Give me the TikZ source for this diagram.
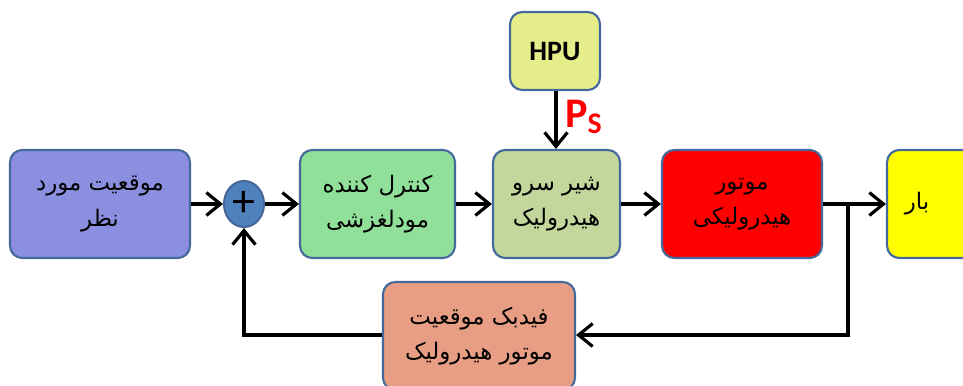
\documentclass[tikz,border=0pt]{standalone}
\usepackage{fontspec}
\usetikzlibrary{arrows.meta,shapes.geometric}
\setmainfont{Carlito}
\newfontfamily\arabicfont[Script=Arabic]{DejaVu Sans}
\TeXXeTstate=1
\definecolor{setpoint}{RGB}{139,143,224}
\definecolor{sumblue}{RGB}{79,129,189}
\definecolor{smcgreen}{RGB}{144,224,154}
\definecolor{valveolive}{RGB}{195,214,155}
\definecolor{hpuyellow}{RGB}{230,238,140}
\definecolor{loadyellow}{RGB}{255,255,0}
\definecolor{fbsalmon}{RGB}{232,158,132}
\definecolor{edgeblue}{RGB}{70,105,155}

\begin{document}
\begin{tikzpicture}[
  block/.style={draw=edgeblue, line width=1.2pt, rounded corners=7pt, minimum height=2.16cm, align=center, font=\arabicfont\fontsize{13}{20}\selectfont},
  arr/.style={line width=1.8pt, -{Straight Barb[length=8pt, width=13pt, line width=1.8pt]}},
  wire/.style={line width=1.8pt}]
\clip (0,0) rectangle (19.26,7.7);
\node[block, fill=setpoint, minimum width=3.6cm] (goal) at (2.0,3.62) {\beginR موقعیت مورد\endR\\\beginR نظر\endR};
\node[ellipse, draw=edgeblue, line width=1.2pt, fill=sumblue, minimum width=0.8cm, minimum height=0.92cm, inner sep=0pt, font=\fontsize{26}{26}\selectfont] (sum) at (4.88,3.62) {+};
\node[block, fill=smcgreen, minimum width=3.1cm] (smc) at (7.55,3.62) {\beginR کنترل کننده\endR\\\beginR مودلغزشی\endR};
\node[block, fill=valveolive, minimum width=2.54cm] (valve) at (11.13,3.62) {\beginR شیر سرو\endR\\\beginR هیدرولیک\endR};
\node[block, fill=hpuyellow, minimum width=1.8cm, minimum height=1.56cm, font=\fontsize{16}{18}\selectfont\bfseries] (hpu) at (11.1,6.68) {HPU};
\node[block, fill=red, minimum width=3.2cm] (motor) at (14.84,3.62) {\beginR موتور\endR\\\beginR هیدرولیکی\endR};
\node[block, fill=loadyellow, minimum width=2.4cm] (load) at (18.94,3.62) {\hspace*{-1.2cm}\beginR بار\endR};
\node[block, fill=fbsalmon, minimum width=3.84cm] (fb) at (9.58,0.98) {\beginR فیدبک موقعیت\endR\\\beginR موتور هیدرولیک\endR};
\coordinate (split) at (16.96,3.62);

\draw[arr] (goal.east |- sum) -- (sum);
\draw[arr] (sum) -- (smc.west |- sum);
\draw[arr] (smc.east |- sum) -- (valve.west |- sum);
\draw[arr] (valve.east |- sum) -- (motor.west |- sum);
\draw[wire] (motor.east |- split) -- (split);
\draw[arr] (split) -- (load.west |- split);
\draw[arr] (split) |- (fb.east |- 0,1.0);
\draw[arr] (fb.west |- 0,1.0) -| (sum.south);
\draw[arr] (hpu.south -| 11.12,0) -- (valve.north -| 11.12,0) node[pos=0.45, right=1pt, text=red, font=\fontsize{24}{24}\selectfont\bfseries] {P\textsubscript{\fontsize{17}{17}\selectfont S}};
\end{tikzpicture}
\end{document}
